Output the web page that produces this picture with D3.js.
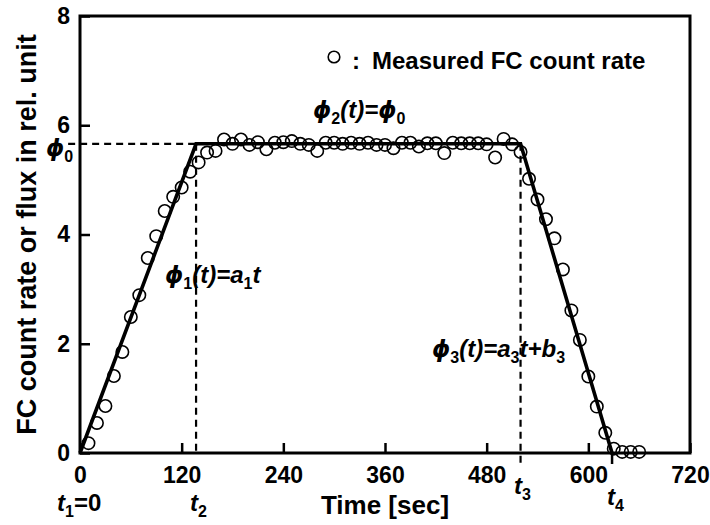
<!DOCTYPE html>
<html>
<head>
<meta charset="utf-8">
<script src="https://cdn.jsdelivr.net/npm/d3@7"></script>
<style>
  body { margin: 0; background: #fff; }
  svg { font-family: "Liberation Sans", Arial, sans-serif; font-weight: bold; }
  .axis text { font-size: 23px; font-weight: bold; fill: #000; }
  .axis line { stroke: #000; stroke-width: 2.5; }
  .note { font-size: 24px; font-style: italic; }
  .phi { font-family: "DejaVu Sans", sans-serif; font-size: 23px; }
</style>
</head>
<body>
<svg id="chart"></svg>
<script>
// measured FC count rate, one point every 10 sec
const times = [10, 20, 30, 40, 50, 60, 70, 80, 90, 100, 110, 120, 130, 140, 150, 160, 170, 180, 190, 200,
  210, 220, 230, 240, 250, 260, 270, 280, 290, 300, 310, 320, 330, 340, 350, 360, 370, 380, 390, 400,
  410, 420, 430, 440, 450, 460, 470, 480, 490, 500, 510, 520, 530, 540, 550, 560, 570, 580, 590, 600,
  610, 620, 630, 640, 650, 660];
const rates = [0.18, 0.55, 0.86, 1.41, 1.85, 2.49, 2.89, 3.57, 3.97, 4.43, 4.69, 4.86, 5.15, 5.32, 5.50, 5.53, 5.74, 5.66, 5.74, 5.64,
  5.69, 5.56, 5.68, 5.69, 5.71, 5.66, 5.64, 5.53, 5.68, 5.68, 5.66, 5.68, 5.66, 5.68, 5.64, 5.64, 5.58, 5.68, 5.68, 5.61,
  5.67, 5.67, 5.49, 5.68, 5.67, 5.67, 5.67, 5.65, 5.41, 5.75, 5.65, 5.51, 5.02, 4.64, 4.28, 3.93, 3.36, 2.61, 2.07, 1.40,
  0.85, 0.37, 0.08, 0.02, 0.02, 0.02];

// trapezoid fit: t1, t2, t3, t4 and plateau phi0
const fitTimes = [0, 137, 520, 628];
const phi0 = 5.66;

const xTicks = [0, 120, 240, 360, 480, 600, 720];
const yTicks = [0, 2, 4, 6, 8];

class TrapezoidChart {
  constructor(_config) {
    this.config = {
      parentElement: _config.parentElement,
      containerWidth: _config.containerWidth || 710,
      containerHeight: _config.containerHeight || 525,
      margin: { top: 16, right: 20, bottom: 72, left: 80 }
    };
    this.initVis();
  }

  initVis() {
    let vis = this;
    vis.width = vis.config.containerWidth - vis.config.margin.left - vis.config.margin.right;
    vis.height = vis.config.containerHeight - vis.config.margin.top - vis.config.margin.bottom;

    vis.svg = d3.select(vis.config.parentElement)
      .attr('width', vis.config.containerWidth)
      .attr('height', vis.config.containerHeight);

    vis.chart = vis.svg.append('g')
      .attr('transform', `translate(${vis.config.margin.left},${vis.config.margin.top})`);

    vis.xScale = d3.scaleLinear().domain([0, 720]).range([0, vis.width]);
    vis.yScale = d3.scaleLinear().domain([0, 8]).range([vis.height, 0]);

    // ticks point into the plot
    vis.xAxis = d3.axisBottom(vis.xScale).tickValues(xTicks).tickSize(-10).tickPadding(14);
    vis.yAxis = d3.axisLeft(vis.yScale).tickValues(yTicks).tickSize(-10).tickPadding(10);

    vis.renderVis();
  }

  renderVis() {
    let vis = this;
    const x = vis.xScale, y = vis.yScale;

    vis.chart.append('g')
      .attr('class', 'axis')
      .attr('transform', `translate(0,${vis.height})`)
      .call(vis.xAxis)
      .call(g => g.select('.domain').remove());

    vis.chart.append('g')
      .attr('class', 'axis')
      .call(vis.yAxis)
      .call(g => g.select('.domain').remove());

    // dashed guides for phi0, t2, t3
    const dashed = (x1, y1, x2, y2) => vis.chart.append('line')
      .attr('x1', x1).attr('y1', y1).attr('x2', x2).attr('y2', y2)
      .attr('stroke', '#000').attr('stroke-width', 2.2).attr('stroke-dasharray', '7,5');
    dashed(x(-14), y(phi0), x(fitTimes[1]), y(phi0));
    dashed(x(fitTimes[1]), y(phi0), x(fitTimes[1]), vis.height);
    dashed(x(fitTimes[2]), y(phi0), x(fitTimes[2]), vis.height + 10);

    // small mark at t4
    vis.chart.append('line')
      .attr('x1', x(fitTimes[3])).attr('x2', x(fitTimes[3]))
      .attr('y1', vis.height).attr('y2', vis.height + 11)
      .attr('stroke', '#000').attr('stroke-width', 2.5);

    // fitted trapezoid
    const fitVals = [0, phi0, phi0, 0];
    vis.chart.append('path')
      .datum(fitTimes.map((t, i) => [t, fitVals[i]]))
      .attr('fill', 'none')
      .attr('stroke', '#000')
      .attr('stroke-width', 3.6)
      .attr('stroke-linejoin', 'miter')
      .attr('d', d3.line().x(d => x(d[0])).y(d => y(d[1])));

    // measured points
    vis.chart.selectAll('circle.pt')
      .data(times.map((t, i) => ({ t: t, v: rates[i] })))
      .join('circle')
        .attr('class', 'pt')
        .attr('cx', d => x(d.t))
        .attr('cy', d => y(d.v))
        .attr('r', 6.2)
        .attr('fill', 'none')
        .attr('stroke', '#000')
        .attr('stroke-width', 1.6);

    // frame
    vis.chart.append('rect')
      .attr('width', vis.width).attr('height', vis.height)
      .attr('fill', 'none').attr('stroke', '#000').attr('stroke-width', 3);

    // legend
    vis.chart.append('circle')
      .attr('cx', 254).attr('cy', 41).attr('r', 5.8)
      .attr('fill', 'none').attr('stroke', '#000').attr('stroke-width', 1.6);
    vis.chart.append('text').attr('x', 272).attr('y', 53).style('font-size', '24px').text(':');
    vis.chart.append('text').attr('x', 292).attr('y', 53).style('font-size', '24px').text('Measured FC count rate');

    // axis titles
    vis.svg.append('text')
      .attr('x', 385)
      .attr('y', 514)
      .attr('text-anchor', 'middle')
      .style('font-size', '26px')
      .text('Time [sec]');
    vis.svg.append('text')
      .attr('transform', `translate(36,${vis.config.margin.top + vis.height / 2}) rotate(-90)`)
      .attr('text-anchor', 'middle')
      .style('font-size', '27px')
      .text('FC count rate or flux in rel. unit');

    // annotations with subscripts: [text, 'sub' | 'phi' | null, 'up']
    const note = (px, py, parts) => {
      const t = vis.svg.append('text').attr('class', 'note').attr('x', px).attr('y', py);
      let shift = 0;
      parts.forEach(p => {
        const sub = p[1] === 'sub';
        const dy = (sub ? 6 : 0) - shift;
        shift = sub ? 6 : 0;
        t.append('tspan')
          .attr('class', p[1] === 'phi' ? 'phi' : null)
          .attr('dy', dy)
          .style('font-size', sub ? '16px' : null)
          .style('font-style', (sub || p[2] === 'up') ? 'normal' : null)
          .text(p[0]);
      });
    };
    note(313, 118, [['ϕ', 'phi'], ['2', 'sub'], ['(t)='], ['ϕ', 'phi'], ['0', 'sub']]);
    note(165, 283, [['ϕ', 'phi'], ['1', 'sub'], ['(t)=a'], ['1', 'sub'], ['t']]);
    note(432, 357, [['ϕ', 'phi'], ['3', 'sub'], ['(t)=a'], ['3', 'sub'], ['t+b'], ['3', 'sub']]);
    note(46, 156, [['ϕ', 'phi'], ['0', 'sub']]);
    note(57, 511, [['t'], ['1', 'sub'], ['=0', null, 'up']]);
    note(190, 511, [['t'], ['2', 'sub']]);
    note(514, 494, [['t'], ['3', 'sub']]);
    note(607, 505, [['t'], ['4', 'sub']]);
  }
}

new TrapezoidChart({ parentElement: '#chart' });
</script>
</body>
</html>
